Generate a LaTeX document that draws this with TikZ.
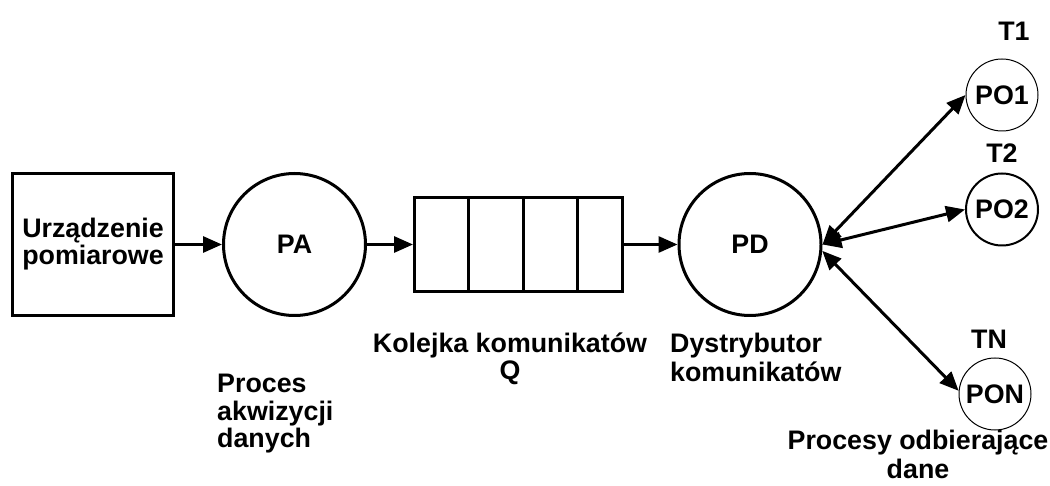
\documentclass[tikz,border=0pt]{standalone}
\usepackage{fontspec}
\setmainfont{Liberation Sans}
\usetikzlibrary{arrows.meta}
\begin{document}
\begin{tikzpicture}[x=1pt,y=-1pt,
  every node/.style={font=\fontsize{26.8}{27}\selectfont\bfseries},
  heavy/.style={draw, line width=3pt, inner sep=0pt},
  proc/.style={heavy, circle, minimum size=142pt},
  recv/.style={circle, draw, minimum size=72pt, inner sep=0pt},
  flow/.style={line width=3pt, -{Triangle[length=19pt,width=16pt]}},
  link/.style={line width=3pt, {Triangle[length=19pt,width=16pt]}-{Triangle[length=19pt,width=16pt]}},
  note/.style={inner sep=0pt},
]
\useasboundingbox (0,0) rectangle (1050,486);

% measuring device, acquisition process, message queue, distributor
\node[heavy, minimum width=161pt, minimum height=142pt, align=center] (dev) at (93,244.5) {Urządzenie\\pomiarowe};
\node[proc] (PA) at (294.5,244.5) {PA};
\node[heavy, minimum width=208pt, minimum height=94pt] (Q) at (518.5,244.5) {};
\foreach \dx in {55,110,164}
  \draw[line width=3pt] ([xshift=\dx pt]Q.south west) -- ([xshift=\dx pt]Q.north west);
\node[proc] (PD) at (750,244.5) {PD};

% receiving processes
\node[recv, line width=1pt] (PO1) at (1002,95) {PO1};
\node[recv, line width=2pt] (PO2) at (1002,209.5) {PO2};
\node[recv, line width=1pt] (PON) at (995,394) {PON};

% labels
\node[note] (t1) at (1014,31) {T1};
\node[note] (t2) at (1002,153) {T2};
\node[note] (tn) at (989,339) {TN};
\node[note, anchor=north west, align=left] (paLabel) at (217,373) {\strut Proces\\akwizycji\\danych};
\node[note, anchor=north, align=center] (qLabel) at (510,333) {\strut Kolejka komunikatów\\Q};
\node[note, anchor=north west, align=left] (pdLabel) at (670,333) {\strut Dystrybutor\\komunikatów};
\node[note, anchor=north, align=center] (poLabel) at (918,430) {\strut Procesy odbierające\\dane};

% connectors
\draw[flow] (dev) -- (PA);
\draw[flow] (PA) -- (Q);
\draw[flow] (Q) -- (PD);
\draw[link] (PD.east) -- (PO1.west);
\draw[link] (PD.east) -- (PO2.west);
\draw[link] (PD.-5) -- (PON.175);
\end{tikzpicture}
\end{document}
